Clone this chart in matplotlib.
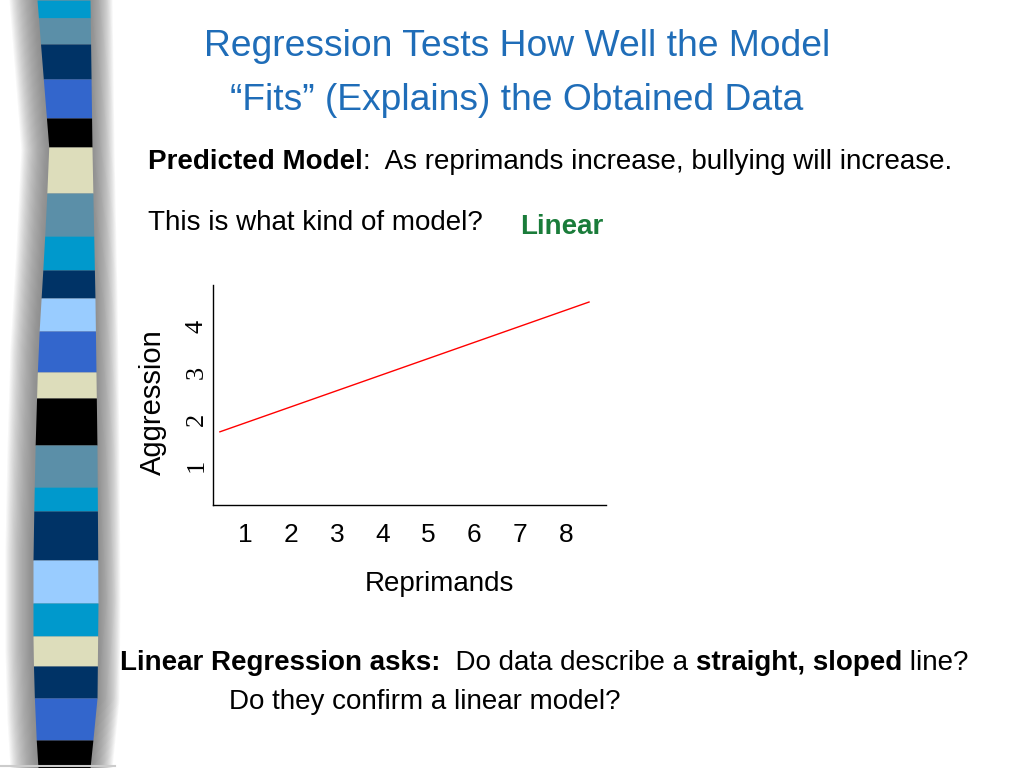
import matplotlib.pyplot as plt
import numpy as np

# data
reprimands = [0.45, 8.5]
aggression = [1.72, 4.54]
x_ticks = [1, 2, 3, 4, 5, 6, 7, 8]
y_ticks = [1, 2, 3, 4]

stripe_colors = ['#0099cc', '#5b8fa8', '#003366', '#3366cc', '#000000', '#ddddbb',
                 '#5b8fa8', '#0099cc', '#003366', '#99ccff', '#3366cc', '#ddddbb',
                 '#000000', '#5b8fa8', '#0099cc', '#003366', '#99ccff', '#0099cc',
                 '#ddddbb', '#003366', '#3366cc', '#000000']
stripe_edges = [0, 18, 44, 79, 118, 147, 193, 236, 270, 298, 331, 372, 398, 445,
                487, 511, 560, 603, 636, 666, 698, 740, 768]

NARROW = ['Liberation Sans Narrow', 'Liberation Sans', 'DejaVu Sans']
BLUE = '#1f6db8'
GREEN = '#1a7c3a'

fig = plt.figure(figsize=(10.24, 7.68), dpi=100)
bg = fig.add_axes([0, 0, 1, 1], zorder=-1)
bg.set_xlim(0, 1024)
bg.set_ylim(768, 0)
bg.axis('off')

# decorative striped bar on the left
ey = [0, 100, 150, 250, 350, 450, 550, 650, 720, 768]
lx = [37, 45, 49, 44, 38, 35, 33, 33, 35, 38]
ry_ = [0, 150, 300, 450, 600, 700, 768]
rx = [90, 92, 95, 97, 98, 97, 90]
yy = np.linspace(0, 768, 200)
left = np.interp(yy, ey, lx)
right = np.interp(yy, ry_, rx)
for k in range(1, 26):
    bg.fill_betweenx(yy, left - k * 1.1, right + k * 0.9, color='#707070',
                     alpha=0.05, lw=0)
for c, y0, y1 in zip(stripe_colors, stripe_edges[:-1], stripe_edges[1:]):
    ys = np.array([y0, y1])
    bg.fill_betweenx(ys, np.interp(ys, ey, lx), np.interp(ys, ry_, rx),
                     color=c, lw=0)
bg.plot([0, 115], [766, 766], color='#cccccc', lw=1.5)


def fx(px):
    return px / 1024


def fy(py):
    return 1 - py / 768


# title
fig.text(fx(517), fy(46), 'Regression Tests How Well the Model', ha='center',
         va='center', fontsize=26.8, color=BLUE, family=NARROW)
fig.text(fx(517), fy(101), '\u201cFits\u201d (Explains) the Obtained Data',
         ha='center', va='center', fontsize=26.8, color=BLUE, family=NARROW)

renderer = fig.canvas.get_renderer()


def runs(x, y, parts, size):
    for txt, weight, color in parts:
        t = fig.text(fx(x), fy(y), txt, ha='left', va='baseline', fontsize=size,
                     fontweight=weight, color=color, family=NARROW)
        x += t.get_window_extent(renderer).width


runs(148, 169, [('Predicted Model', 'bold', 'black'),
                (':  As reprimands increase, bullying will increase.', 'normal', 'black')], 20)
runs(148, 230, [('This is what kind of model?', 'normal', 'black')], 20)
runs(520, 234, [('Linear', 'bold', GREEN)], 20)
runs(120, 670, [('Linear Regression asks:', 'bold', 'black'),
                ('  Do data describe a ', 'normal', 'black'),
                ('straight, sloped', 'bold', 'black'),
                (' line?', 'normal', 'black')], 20)
runs(229, 709, [('Do they confirm a linear model?', 'normal', 'black')], 20)

# the chart
ax = fig.add_axes([fx(213), fy(505), fx(606) - fx(213), fy(285) - fy(505)])
ax.plot(reprimands, aggression, color='red', lw=1)
ax.set_xlim(0.3, 8.87)
ax.set_ylim(0.13, 4.91)
ax.set_xticks(x_ticks)
ax.set_yticks(y_ticks)
ax.set_xticklabels([str(v) for v in x_ticks], fontsize=19, family=NARROW)
ax.set_yticklabels([str(v) for v in y_ticks], fontsize=19, rotation=90,
                   va='center', family=['Liberation Serif', 'DejaVu Serif'])
ax.tick_params(axis='x', length=0, pad=13)
ax.tick_params(axis='y', length=0, pad=4)
for s in ['top', 'right']:
    ax.spines[s].set_visible(False)
ax.spines['left'].set_linewidth(1)
ax.spines['bottom'].set_linewidth(1)
ax.set_xlabel('Reprimands', fontsize=20, family=NARROW)
ax.xaxis.set_label_coords(0.575, -0.30)
ax.set_ylabel('Aggression', fontsize=21, family=NARROW)
ax.yaxis.set_label_coords(-0.117, 0.468)

fig.savefig('out.png', dpi=100)
